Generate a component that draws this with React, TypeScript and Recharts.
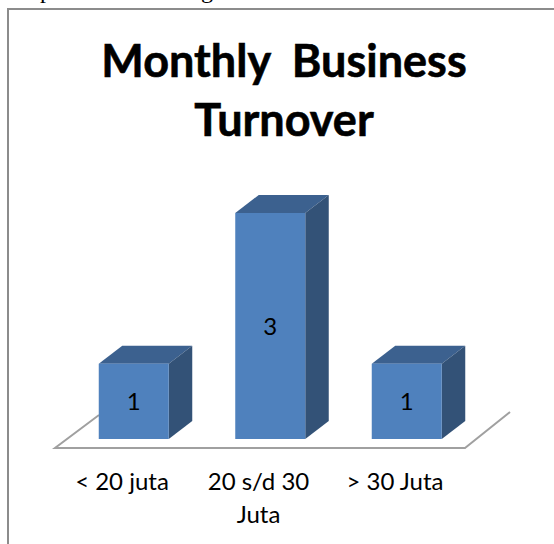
import { BarChart, Bar, XAxis, YAxis, Customized, LabelList } from 'recharts';

const categories = ['< 20 juta', '20 s/d 30 Juta', '> 30 Juta'];
const counts = [1, 3, 1];
const titleLines = ['Monthly  Business', 'Turnover'];
const chartData = categories.map((name, i) => ({ name, count: counts[i] }));

const FONT = 'Lato, "Open Sans", sans-serif';
const DEPTH_X = 23.5;
const DEPTH_Y = 18;

// 3D column: front face comes from the scales, top and side are offset from it
function Column3D(props: any) {
  const { x, y, width, height } = props;
  const r = x + width;
  const b = y + height;
  return (
    <g>
      <polygon
        points={`${x},${y} ${x + DEPTH_X},${y - DEPTH_Y} ${r + DEPTH_X},${y - DEPTH_Y} ${r},${y}`}
        fill="#3c618f"
      />
      <polygon
        points={`${r},${y} ${r + DEPTH_X},${y - DEPTH_Y} ${r + DEPTH_X},${b - DEPTH_Y} ${r},${b}`}
        fill="#335277"
      />
      <rect x={x} y={y} width={width} height={height} fill="#4f81bd" />
    </g>
  );
}

function Floor() {
  return (
    <polyline
      points="99,415 55,448 465,448 510,412"
      fill="none"
      stroke="#a0a0a0"
      strokeWidth={2}
    />
  );
}

function CategoryTick(props: any) {
  const { x, y, payload } = props;
  const value: string = payload.value;
  const lines = value === '20 s/d 30 Juta' ? ['20 s/d 30', 'Juta'] : [value];
  return (
    <text x={x} y={y} textAnchor="middle" fontFamily={FONT} fontSize={24} fill="#000">
      {lines.map((line, i) => (
        <tspan key={line} x={x - 12} dy={i === 0 ? 0 : 33}>
          {line}
        </tspan>
      ))}
    </text>
  );
}

export default function App() {
  return (
    <div style={{ position: 'absolute', left: 0, top: 0, width: 554, height: 544, overflow: 'hidden', background: '#fff' }}>
      <div
        style={{
          position: 'absolute',
          left: 7,
          top: 8,
          width: 560,
          height: 560,
          border: '2px solid #8c8c8c',
          boxSizing: 'border-box',
        }}
      />
      <BarChart
        width={554}
        height={544}
        data={chartData}
        margin={{ top: 213, right: 78.75, left: 65.75, bottom: 0 }}
        style={{ position: 'absolute', left: 0, top: 0 }}
      >
        <XAxis dataKey="name" axisLine={false} tickLine={false} interval={0} height={105} tick={<CategoryTick />} tickMargin={45} />
        <YAxis hide domain={[0, 3]} />
        <Customized component={Floor} />
        <Bar dataKey="count" barSize={70} shape={<Column3D />} isAnimationActive={false}>
          <LabelList dataKey="count" position="center" fontFamily={FONT} fontSize={24} fill="#000" />
        </Bar>
        {/* only the descenders of the line above the chart show in the picture */}
        <text y={-2} fontFamily='"Liberation Serif", serif' fontSize={24} fill="#000">
          <tspan x={40}>p</tspan>
          <tspan x={201}>g</tspan>
        </text>
        <text textAnchor="middle" fontFamily={FONT} fontWeight={700} fontSize={45} fill="#000" stroke="#000" strokeWidth={0.6}>
          {titleLines.map((line, i) => (
            <tspan key={line} x={284} y={77 + i * 59} style={{ whiteSpace: 'pre' }}>
              {line}
            </tspan>
          ))}
        </text>
      </BarChart>
    </div>
  );
}
